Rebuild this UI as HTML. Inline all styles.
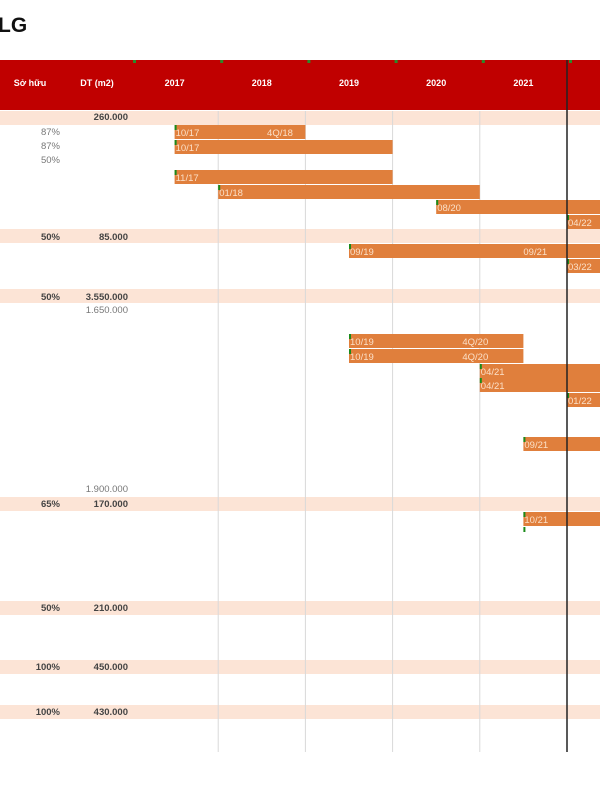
<!DOCTYPE html>
<html><head><meta charset="utf-8"><style>
body{margin:0;width:600px;height:800px;background:#fff;overflow:hidden;font-family:"Liberation Sans","Noto Sans CJK SC",sans-serif}
svg{display:block}
</style></head><body>
<svg id="c" width="600" height="800">
<text x="-2" y="32" font-size="21" font-weight="bold" fill="#111">LG</text>
<rect x="0" y="60" width="600" height="50" fill="#c00000"/>
<text x="30" y="86" font-size="9" font-weight="bold" fill="#fff" text-anchor="middle">Sở hữu</text>
<text x="97" y="86" font-size="9" font-weight="bold" fill="#fff" text-anchor="middle">DT (m2)</text>
<g id="bands"></g><g id="grid"></g><g id="bars"></g><g id="hdr"></g><g id="left"></g>
<line x1="567" y1="60" x2="567" y2="752" stroke="#222" stroke-width="1.5"/>
</svg>
<script>
const years=[2017,2018,2019,2020,2021,2022];
const bandRows=[111,229,289,497,601,660,705];
const barStart=[2017.5,2017.5,2017.5,2018.0,2020.5,2022.0,2019.5,2022.0,2019.5,2019.5,2021.0,2021.0,2022.0,2021.5,2021.5];
const barEnd=[2019.0,2020.0,2020.0,2021.0,2023.0,2023.0,2023.0,2023.0,2021.5,2021.5,2023.0,2023.0,2023.0,2023.0,2023.0];
const barRow=[125,140,170,185,200,215,244,259,334,349,364,378,393,437,512];
const barLabel=["10/17","10/17","11/17","01/18","08/20","04/22","09/19","03/22","10/19","10/19","04/21","04/21","01/22","09/21","10/21"];
const barEndLabel=["4Q/18","","","","","","09/21","","4Q/20","4Q/20","","","","",""];
const barEndLabelT=[2018.56,0,0,0,0,0,2021.5,0,2020.8,2020.8,0,0,0,0,0];
const leftTexts=["260.000","87%","87%","50%","50%","85.000","50%","3.550.000","1.650.000","1.900.000","65%","170.000","50%","210.000","100%","450.000","100%","430.000"];
const leftX=[128,60,60,60,60,128,60,128,128,128,60,128,60,128,60,128,60,128];
const leftY=[120,135,149,163,240,240,300,300,313,492,507,507,611,611,670,670,715,715];
const leftBold=[1,0,0,0,1,1,1,1,0,0,1,1,1,1,1,1,1,1];
const x0=131,yw=87.2;
const X=t=>x0+(t-2017)*yw;
const ns="http://www.w3.org/2000/svg";
function mk(g,tag,a){const e=document.createElementNS(ns,tag);for(const k in a)e.setAttribute(k,a[k]);document.getElementById(g).appendChild(e);return e;}
bandRows.forEach(y=>{const r=mk('bands','rect',{x:0,y:y,width:600,height:14,fill:'#fce4d6'});

});
years.forEach((yr,i)=>{const t=mk('hdr','text',{x:X(yr)+yw/2,y:86,'font-size':9,'font-weight':'bold',fill:'#fff','text-anchor':'middle'});t.textContent=yr;


const m=mk('hdr','rect',{x:X(yr)+2,y:60,width:3,height:3,fill:'#2a8a2a'});


if(i>0&&X(yr)<560){const l=mk('grid','line',{x1:X(yr),y1:111,x2:X(yr),y2:752,stroke:'#d9d9d9','stroke-width':1});

}});
barStart.forEach((s,i)=>{const x=X(s),w=Math.min(600,X(barEnd[i]))-x;
const r=mk('bars','rect',{x:x,y:barRow[i],width:w,height:14,fill:'#e07f3c'});


const m=mk('bars','rect',{x:x,y:barRow[i],width:2,height:5,fill:'#1a8a1a'});


const t=mk('bars','text',{x:x+1,y:barRow[i]+11,'font-size':9.5,fill:'#fbe0c8'});t.textContent=barLabel[i];


if(barEndLabel[i]){const e=mk('bars','text',{x:X(barEndLabelT[i]),y:barRow[i]+11,'font-size':9.5,fill:'#fbe0c8'});e.textContent=barEndLabel[i];

}});
const g=mk('bars','rect',{x:X(2021.5),y:527,width:2,height:5,fill:'#1a8a1a'});


leftTexts.forEach((s,i)=>{const t=mk('left','text',{x:leftX[i],y:leftY[i],'font-size':9.5,'text-anchor':'end',fill:leftBold[i]?'#444':'#777','font-weight':leftBold[i]?'bold':'normal'});t.textContent=s;

});
</script>
</body></html>
